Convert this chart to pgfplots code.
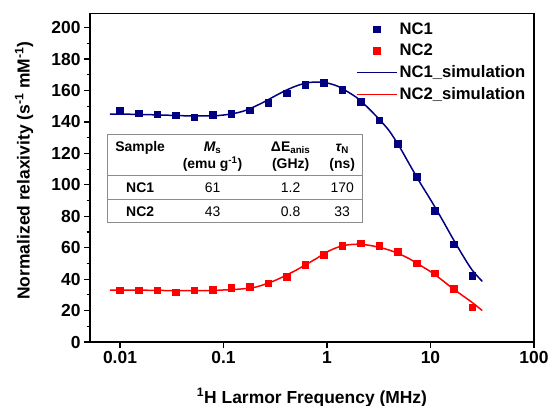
\documentclass[border=0pt]{standalone}
\usepackage{fontspec}
\setmainfont{Liberation Sans}
\usepackage{pgfplots}
\pgfplotsset{compat=1.18}

\definecolor{ncblue}{RGB}{0,0,128}
\definecolor{ncred}{RGB}{255,0,0}
\definecolor{tabgray}{RGB}{140,140,140}

\newcommand{\bigfont}{\bfseries\fontsize{17.5}{21}\selectfont}
\newcommand{\tabfont}{\fontsize{14}{16}\selectfont}

\begin{document}
\begin{tikzpicture}
\path[use as bounding box] (-90bp,-64bp) rectangle (459bp,342bp);
\begin{axis}[
  at={(0,0)}, anchor=south west,
  width=444bp, height=328.5bp, scale only axis,
  xmode=log,
  xmin=0.00513, xmax=100,
  ymin=0, ymax=209,
  xtick={0.01,0.1,1,10,100},
  xticklabels={0.01,0.1,1,10,100},
  xminorticks=false,
  ytick={0,20,...,200},
  minor y tick num=1,
  tick align=outside,
  tickpos=left,
  major tick length=6bp,
  minor tick length=3.5bp,
  every tick/.style={black, line width=1.2bp},
  axis line style={line width=1.4bp},
  /pgf/number format/assume math mode=true,
  tick label style={font=\bigfont},
  xlabel={\textsuperscript{1}H Larmor Frequency (MHz)},
  ylabel={Normalized relaxivity (s\textsuperscript{-1} mM\textsuperscript{-1})},
  label style={font=\bigfont},
  xlabel style={at={(axis description cs:0.5,-0.1857)}, anchor=base},
  ylabel style={at={(axis description cs:-0.1486,0.522)}, anchor=center},
  legend cell align=left,
  legend style={at={(axis description cs:0.592,0.985)}, anchor=north west,
    draw=none, fill=none, font=\bfseries\fontsize{16.7}{20}\selectfont,
    row sep=4.5bp},
  legend image code/.code={
    \draw[mark repeat=2,mark phase=2] plot coordinates {(0bp,0bp) (20bp,0bp) (40bp,0bp)};},
]
\addplot[only marks, mark=square*, mark size=3.3bp, color=ncblue] coordinates {
  (0.01000,147.0) (0.01510,145.6) (0.02280,145.0) (0.03444,144.2) (0.05200,143.1)
  (0.07853,144.6) (0.1186,145.2) (0.1791,147.5) (0.2704,152.4) (0.4084,158.4)
  (0.6167,163.7) (0.9313,164.8) (1.406,160.5) (2.124,153.0) (3.207,141.0)
  (4.843,126.0) (7.313,105.3) (11.04,83.6) (16.68,62.2) (25.19,42.2)
};
\addlegendentry{NC1}
\addplot[only marks, mark=square*, mark size=3.3bp, color=ncred] coordinates {
  (0.01000,33.0) (0.01510,33.0) (0.02280,33.0) (0.03444,31.8) (0.05200,33.0)
  (0.07853,33.2) (0.1186,34.4) (0.1791,35.2) (0.2704,37.4) (0.4084,41.6)
  (0.6167,49.0) (0.9313,55.4) (1.406,61.3) (2.124,62.8) (3.207,61.1)
  (4.843,57.3) (7.313,50.1) (11.04,43.7) (16.68,33.8) (25.19,22.1)
};
\addlegendentry{NC2}
\addplot[no marks, smooth, line width=1.5bp, color=ncblue] coordinates {
  (0.008,145.0) (0.0126,144.9) (0.02,144.6) (0.0316,144.2) (0.05,143.8)
  (0.0794,143.9) (0.1,144.4) (0.126,145.4) (0.158,147.0) (0.2,149.8)
  (0.251,153.0) (0.316,156.6) (0.398,160.0) (0.5,162.8) (0.631,164.8)
  (0.794,165.4) (1.0,164.8) (1.26,162.8) (1.585,159.2) (2.0,154.8)
  (2.51,148.8) (3.16,142.0) (3.98,134.5) (5.01,124.3) (6.31,112.7)
  (7.94,101.3) (10,90.6) (12.59,79.4) (15.85,67.7) (19.95,56.4)
  (25.12,46.0) (31.62,38.6)
};
\addlegendentry{NC1\_simulation}
\addplot[no marks, smooth, line width=1.5bp, color=ncred] coordinates {
  (0.008,33.0) (0.0126,33.0) (0.02,32.9) (0.0316,32.7) (0.05,32.7)
  (0.0794,32.8) (0.1,33.1) (0.126,33.4) (0.158,33.9) (0.2,34.8)
  (0.251,36.7) (0.316,39.2) (0.398,42.3) (0.5,45.6) (0.631,49.4)
  (0.794,53.2) (1.0,57.3) (1.26,60.2) (1.585,61.8) (2.0,62.2)
  (2.51,61.6) (3.16,60.3) (3.98,58.5) (5.01,56.0) (6.31,52.8)
  (7.94,48.8) (10,44.8) (12.59,40.0) (15.85,34.8) (19.95,30.0)
  (25.12,25.3) (31.62,20.0)
};
\addlegendentry{NC2\_simulation}

% parameter table
\draw[tabgray, line width=0.9bp, fill=white] (rel axis cs:0.039,0.363) rectangle (rel axis cs:0.614,0.633);
\draw[tabgray, line width=0.9bp] (rel axis cs:0.039,0.507) -- (rel axis cs:0.614,0.507);
\draw[tabgray, line width=0.9bp] (rel axis cs:0.039,0.435) -- (rel axis cs:0.614,0.435);
\begin{scope}[every node/.style={font=\tabfont, anchor=base, inner sep=0pt}]
  \node at (rel axis cs:0.113,0.580) {\bfseries Sample};
  \node at (rel axis cs:0.276,0.580) {\bfseries\itshape M\textsubscript{\upshape s}};
  \node at (rel axis cs:0.452,0.580) {\bfseries ΔE\textsubscript{anis}};
  \node at (rel axis cs:0.568,0.580) {\bfseries\itshape τ\textsubscript{\upshape N}};
  \node at (rel axis cs:0.276,0.527) {\bfseries (emu g\textsuperscript{-1})};
  \node at (rel axis cs:0.452,0.527) {\bfseries (GHz)};
  \node at (rel axis cs:0.568,0.527) {\bfseries (ns)};
  \node at (rel axis cs:0.113,0.455) {\bfseries NC1};
  \node at (rel axis cs:0.276,0.455) {61};
  \node at (rel axis cs:0.452,0.455) {1.2};
  \node at (rel axis cs:0.568,0.455) {170};
  \node at (rel axis cs:0.113,0.383) {\bfseries NC2};
  \node at (rel axis cs:0.276,0.383) {43};
  \node at (rel axis cs:0.452,0.383) {0.8};
  \node at (rel axis cs:0.568,0.383) {33};
\end{scope}
\end{axis}
\end{tikzpicture}
\end{document}
